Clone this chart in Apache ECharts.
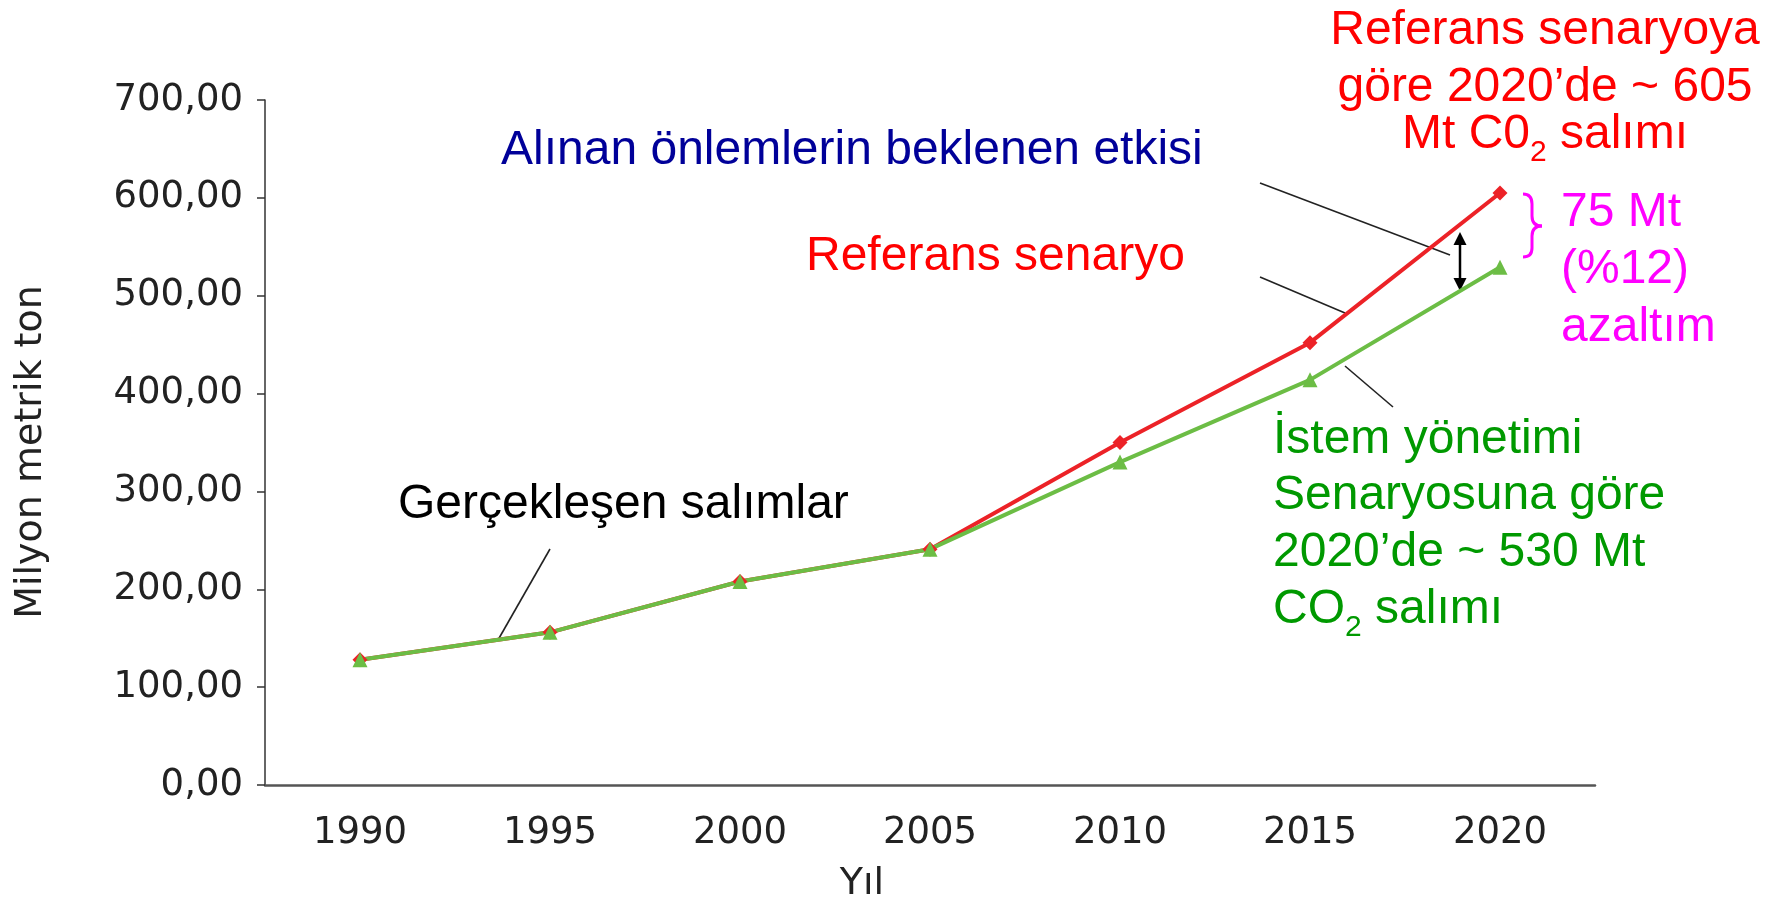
<!DOCTYPE html>
<html>
<head>
<meta charset="utf-8">
<title>CO2 salımı</title>
<script src="https://cdn.jsdelivr.net/npm/echarts@6/dist/echarts.min.js"></script>
<style>
  html, body { margin: 0; padding: 0; background: #fff; }
  #chart { width: 1789px; height: 902px; }
</style>
</head>
<body>
<div id="chart"></div>
<script>
// years on the x axis
const years = ['1990', '1995', '2000', '2005', '2010', '2015', '2020']
// reference scenario (Mt CO2)
const referans = [128, 156, 208, 241, 350, 452, 605]
// demand management scenario (Mt CO2)
const istem = [128, 156, 208, 241, 330, 414, 529]

const sans = '"Liberation Sans", Arial, sans-serif'
const verdana = '"DejaVu Sans", Verdana, sans-serif'

function txt(text, x, y, color, align) {
  return {
    type: 'text',
    x: x,
    y: y + 4,
    style: {
      text: text,
      fill: color,
      font: '48px ' + sans,
      align: align || 'left',
      textAlign: align || 'left',
      verticalAlign: 'middle',
      textVerticalAlign: 'middle'
    }
  }
}

function subTxt(text, x, y, color, align) {
  const el = txt(text, x, y, color, align)
  el.style.lineHeight = 66
  el.style.rich = {
    m: { fontSize: 48, fontFamily: sans, lineHeight: 66 },
    sub: { fontSize: 30, fontFamily: sans, lineHeight: 66, verticalAlign: 'bottom' }
  }
  return el
}

function axisName(text, x, y, rot) {
  return {
    type: 'text',
    x: x,
    y: y,
    rotation: rot,
    style: {
      text: text,
      fill: '#222',
      font: '38px ' + verdana,
      align: 'center',
      textAlign: 'center',
      verticalAlign: 'middle',
      textVerticalAlign: 'middle'
    }
  }
}

function leader(x1, y1, x2, y2, color, w) {
  return {
    type: 'line',
    shape: { x1: x1, y1: y1, x2: x2, y2: y2 },
    style: { stroke: color || '#222', lineWidth: w || 1.6 }
  }
}

function curve(x1, y1, cx, cy, x2, y2) {
  return {
    type: 'bezierCurve',
    shape: { x1: x1, y1: y1, cpx1: cx, cpy1: cy, x2: x2, y2: y2 },
    style: { stroke: '#ff00ff', lineWidth: 3, fill: null }
  }
}

let chart = echarts.init(document.getElementById('chart'))

let option = {
  animation: false,
  backgroundColor: '#fff',
  grid: {
    left: 265,
    right: 194,
    top: 100,
    bottom: 117
  },
  xAxis: {
    type: 'category',
    data: years,
    boundaryGap: true,
    axisLine: {
      lineStyle: { color: '#555', width: 2.5 }
    },
    axisTick: {
      length: 6,
      lineStyle: { color: '#333', width: 1.5 }
    },
    axisLabel: {
      margin: 30,
      fontFamily: verdana,
      fontSize: 37,
      color: '#222'
    }
  },
  yAxis: {
    type: 'value',
    min: 0,
    max: 700,
    interval: 100,
    axisLine: {
      show: true,
      lineStyle: { color: '#333', width: 1.5 }
    },
    axisTick: {
      show: true,
      length: 8,
      lineStyle: { color: '#333', width: 1.5 }
    },
    splitLine: { show: false },
    axisLabel: {
      margin: 22,
      fontFamily: verdana,
      fontSize: 37,
      color: '#222',
      formatter: function (v) {
        return v.toFixed(2).replace('.', ',')
      }
    }
  },
  series: [{
    name: 'Referans senaryo',
    type: 'line',
    data: referans,
    symbol: 'diamond',
    symbolSize: 15,
    lineStyle: { color: '#ec2227', width: 4 },
    itemStyle: { color: '#ec2227' }
  }, {
    name: 'İstem yönetimi',
    type: 'line',
    data: istem,
    symbol: 'triangle',
    symbolSize: 15,
    lineStyle: { color: '#6cbd45', width: 4 },
    itemStyle: { color: '#6cbd45' }
  }],
  graphic: [
    axisName('Milyon metrik ton', 31, 452, Math.PI / 2),
    axisName('Yıl', 862, 884, 0),

    txt('Alınan önlemlerin beklenen etkisi', 501, 147, '#000099'),
    txt('Referans senaryo', 806, 253, '#ff0000'),
    txt('Gerçekleşen salımlar', 398, 501, '#000000'),

    txt('Referans senaryoya', 1545, 27, '#ff0000', 'center'),
    txt('göre 2020’de ~ 605', 1545, 84, '#ff0000', 'center'),
    subTxt('{m|Mt C0}{sub|2}{m| salımı}', 1545, 131, '#ff0000', 'center'),

    txt('75 Mt', 1561, 209, '#ff00ff'),
    txt('(%12)', 1561, 266, '#ff00ff'),
    txt('azaltım', 1561, 324, '#ff00ff'),

    txt('İstem yönetimi', 1273, 436, '#009900'),
    txt('Senaryosuna göre', 1273, 492, '#009900'),
    txt('2020’de ~ 530 Mt', 1273, 549, '#009900'),
    subTxt('{m|CO}{sub|2}{m| salımı}', 1273, 606, '#009900'),

    // brace
    curve(1523, 194, 1532, 194, 1532, 204),
    leader(1532, 204, 1532, 216, '#ff00ff', 3),
    curve(1532, 216, 1532, 226, 1542, 226),
    curve(1542, 226, 1532, 226, 1532, 236),
    leader(1532, 236, 1532, 248, '#ff00ff', 3),
    curve(1532, 248, 1532, 257, 1523, 257),

    // leader lines
    leader(1260, 183, 1450, 255),
    leader(1260, 277, 1345, 313),
    leader(1345, 366, 1393, 407),
    leader(550, 549, 498, 640),

    // double arrow
    leader(1460, 240, 1460, 283, '#000', 2.5),
    {
      type: 'polygon',
      shape: { points: [[1460, 232], [1453.5, 245], [1466.5, 245]] },
      style: { fill: '#000' }
    },
    {
      type: 'polygon',
      shape: { points: [[1460, 291], [1453.5, 278], [1466.5, 278]] },
      style: { fill: '#000' }
    }
  ]
}

chart.setOption(option)
</script>
</body>
</html>
